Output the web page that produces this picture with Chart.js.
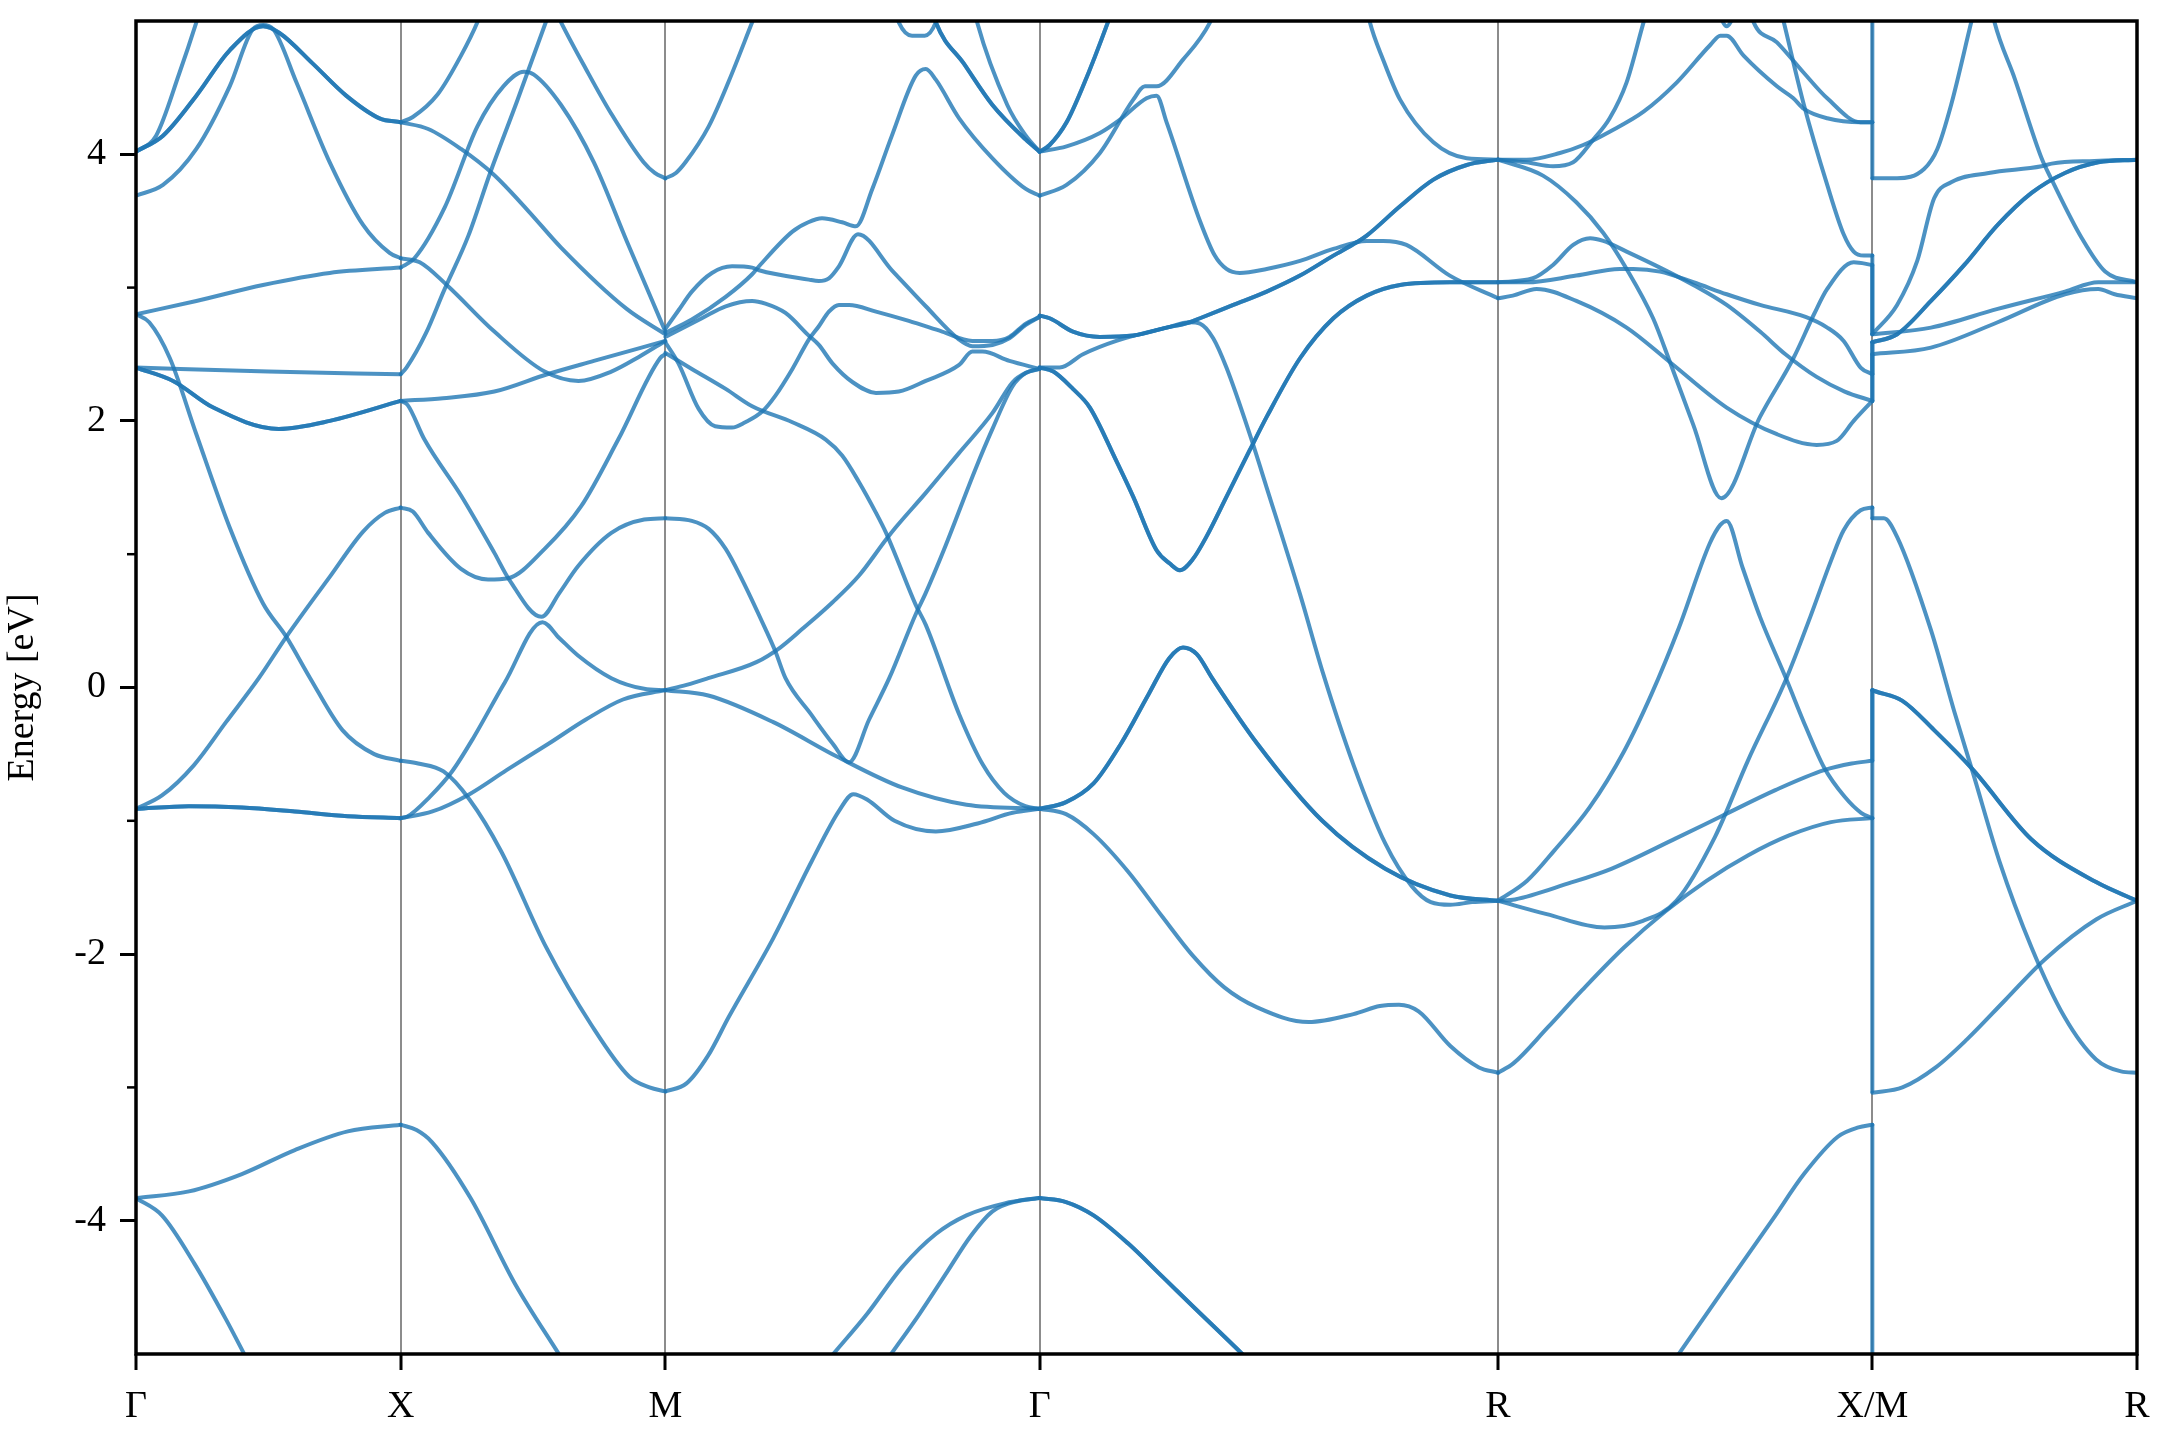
<!DOCTYPE html>
<html>
<head>
<meta charset="utf-8">
<script src="https://cdn.jsdelivr.net/npm/chart.js@4/dist/chart.umd.min.js"></script>
<style>
  html, body { margin: 0; padding: 0; background: #fff; }
  canvas { display: block; }
</style>
</head>
<body>
<canvas id="bands" width="2160" height="1440"></canvas>
<script>
// k-path: Γ-X-M-Γ-R-X|M-R (path length in 2π/a)
const kPoints = [0, 0.5, 1.0, 1.7071, 2.5731, 3.2802, 3.7802];
const kLabels = ['Γ', 'X', 'M', 'Γ', 'R', 'X/M', 'R'];
const yTicks = [-4, -2, 0, 2, 4];
const yMinor = [-3, -1, 1, 3];

// bands, [k, E] pairs. *Double = degenerate pairs (drawn twice)
const gxLines = [
  [[0,-3.83],[0.1,-3.78],[0.2,-3.65],[0.3,-3.47],[0.4,-3.33],[0.5,-3.28]],
  [[0,-3.83],[0.049,-3.96],[0.11,-4.32],[0.17,-4.74],[0.207,-5.02],[0.228,-5.18]],
  [[0,-0.91],[0.049,-0.81],[0.11,-0.58],[0.17,-0.26],[0.232,0.07],[0.284,0.38],[0.366,0.83],[0.429,1.17],[0.47,1.31],[0.5,1.35]],
  [[0,2.8],[0.025,2.74],[0.064,2.47],[0.114,1.9],[0.177,1.2],[0.24,0.63],[0.284,0.38],[0.329,0.07],[0.39,-0.32],[0.45,-0.5],[0.5,-0.55]],
  [[0,2.8],[0.114,2.9],[0.24,3.02],[0.366,3.11],[0.5,3.15]],
  [[0,2.4],[0.25,2.37],[0.5,2.35]],
  [[0,3.69],[0.051,3.77],[0.114,4.04],[0.177,4.51],[0.221,4.94],[0.24,4.97],[0.259,4.94],[0.303,4.54],[0.366,3.94],[0.429,3.47],[0.479,3.26],[0.5,3.22]],
  [[0,4.02],[0.038,4.14],[0.082,4.61],[0.114,4.99],[0.13,5.2]]
];
const gxDouble = [
  [[0,-0.91],[0.1,-0.89],[0.2,-0.9],[0.3,-0.93],[0.4,-0.965],[0.5,-0.98]],
  [[0,2.4],[0.07,2.3],[0.146,2.1],[0.27,1.94],[0.366,2.0],[0.5,2.15]],
  [[0,4.02],[0.051,4.14],[0.114,4.44],[0.177,4.78],[0.24,4.96],[0.271,4.91],[0.334,4.68],[0.397,4.44],[0.46,4.27],[0.5,4.24]]
];

const xmLines = [
  [[0.5,-3.28],[0.53,-3.32],[0.559,-3.41],[0.632,-3.83],[0.717,-4.48],[0.802,-5.02],[0.83,-5.2]],
  [[0.5,-0.98],[0.56,-0.93],[0.63,-0.8],[0.7,-0.62],[0.78,-0.42],[0.85,-0.24],[0.92,-0.09],[1.0,-0.02]],
  [[0.5,-0.55],[0.533,-0.57],[0.581,-0.63],[0.63,-0.84],[0.69,-1.23],[0.775,-1.95],[0.86,-2.53],[0.932,-2.92],[0.97,-3.0],[1.0,-3.03]],
  [[0.5,-0.98],[0.512,-0.97],[0.555,-0.82],[0.597,-0.63],[0.637,-0.38],[0.697,0.04],[0.768,0.49],[0.8,0.37],[0.835,0.24],[0.898,0.07],[0.96,-0.01],[1.0,-0.02]],
  [[0.5,2.15],[0.513,2.12],[0.545,1.86],[0.614,1.44],[0.677,1.01],[0.705,0.81],[0.766,0.53],[0.8,0.71],[0.835,0.91],[0.898,1.16],[0.96,1.26],[1.0,1.27]],
  [[0.5,1.35],[0.523,1.32],[0.552,1.16],[0.614,0.89],[0.665,0.81],[0.703,0.82],[0.772,1.04],[0.841,1.36],[0.911,1.86],[0.99,2.47],[1.0,2.5]],
  [[0.5,2.15],[0.58,2.17],[0.677,2.22],[0.777,2.35],[0.865,2.45],[1.0,2.6]],
  [[0.5,3.22],[0.536,3.19],[0.587,3.02],[0.677,2.67],[0.772,2.37],[0.836,2.3],[0.898,2.37],[0.95,2.48],[1.0,2.6]],
  [[0.5,2.35],[0.511,2.4],[0.548,2.66],[0.581,2.97],[0.628,3.39],[0.669,3.86],[0.72,4.4],[0.775,5.0],[0.79,5.17]],
  [[0.5,4.24],[0.552,4.19],[0.614,4.04],[0.675,3.85],[0.74,3.58],[0.803,3.3],[0.927,2.84],[1.0,2.65]],
  [[0.5,4.24],[0.523,4.28],[0.57,4.45],[0.614,4.74],[0.646,5.0],[0.66,5.15]],
  [[0.5,3.15],[0.526,3.22],[0.583,3.6],[0.645,4.21],[0.694,4.51],[0.733,4.62],[0.751,4.6],[0.803,4.37],[0.865,3.94],[0.927,3.35],[0.97,2.95],[1.0,2.67]],
  [[0.79,5.1],[0.803,4.99],[0.85,4.64],[0.897,4.31],[0.959,3.94],[0.98,3.86],[1.0,3.82]]
];

const mgLines = [
  [[1.0,3.82],[1.02,3.86],[1.038,3.94],[1.082,4.21],[1.12,4.55],[1.164,4.99],[1.18,5.15]],
  [[1.0,2.69],[1.025,2.83],[1.05,2.97],[1.088,3.11],[1.126,3.16],[1.164,3.15],[1.177,3.13],[1.271,3.06],[1.29,3.05],[1.309,3.07],[1.328,3.16],[1.364,3.4],[1.428,3.13],[1.492,2.86],[1.555,2.61],[1.58,2.56],[1.618,2.57],[1.65,2.62],[1.681,2.72],[1.7071,2.78]],
  [[1.0,2.66],[1.05,2.76],[1.114,2.93],[1.164,3.1],[1.177,3.16],[1.24,3.42],[1.27,3.49],[1.296,3.52],[1.334,3.49],[1.36,3.46],[1.391,3.74],[1.428,4.14],[1.473,4.59],[1.492,4.64],[1.511,4.56],[1.555,4.27],[1.618,3.97],[1.681,3.74],[1.7071,3.69]],
  [[1.0,2.63],[1.069,2.77],[1.114,2.86],[1.164,2.9],[1.189,2.88],[1.227,2.81],[1.271,2.64],[1.29,2.57],[1.316,2.43],[1.354,2.29],[1.398,2.21],[1.441,2.22],[1.492,2.3],[1.555,2.42],[1.58,2.52],[1.599,2.52],[1.65,2.45],[1.7071,2.39]],
  [[1.0,2.59],[1.025,2.43],[1.063,2.09],[1.094,1.96],[1.126,1.95],[1.151,1.99],[1.183,2.07],[1.208,2.19],[1.24,2.39],[1.271,2.61],[1.29,2.71],[1.309,2.82],[1.328,2.87],[1.347,2.87],[1.398,2.82],[1.46,2.75],[1.523,2.67],[1.58,2.6],[1.618,2.6],[1.65,2.63],[1.681,2.73],[1.7071,2.78]],
  [[1.0,2.51],[1.05,2.39],[1.114,2.24],[1.164,2.11],[1.24,1.99],[1.303,1.86],[1.334,1.74],[1.366,1.54],[1.398,1.31],[1.417,1.16],[1.435,0.99],[1.473,0.62],[1.492,0.47],[1.555,-0.2],[1.6,-0.58],[1.64,-0.79],[1.68,-0.89],[1.7071,-0.91]],
  [[1.0,1.27],[1.05,1.25],[1.082,1.19],[1.114,1.04],[1.145,0.81],[1.189,0.44],[1.208,0.27],[1.227,0.07],[1.275,-0.2],[1.316,-0.42],[1.347,-0.56],[1.385,-0.24],[1.423,0.07],[1.473,0.55],[1.492,0.71],[1.529,1.06],[1.586,1.64],[1.618,1.94],[1.656,2.26],[1.681,2.36],[1.7071,2.39]],
  [[1.0,-0.02],[1.04,0.02],[1.081,0.07],[1.172,0.19],[1.217,0.3],[1.259,0.44],[1.316,0.64],[1.366,0.84],[1.417,1.11],[1.435,1.2],[1.492,1.46],[1.555,1.76],[1.618,2.06],[1.656,2.29],[1.681,2.36],[1.7071,2.39]],
  [[1.0,-0.02],[1.081,-0.06],[1.204,-0.26],[1.325,-0.52],[1.447,-0.75],[1.569,-0.88],[1.7071,-0.91]],
  [[1.0,-3.03],[1.04,-2.97],[1.081,-2.76],[1.12,-2.47],[1.204,-1.88],[1.277,-1.3],[1.329,-0.92],[1.355,-0.8],[1.381,-0.84],[1.433,-1.0],[1.511,-1.08],[1.59,-1.02],[1.656,-0.94],[1.7071,-0.91]],
  [[1.29,-5.13],[1.313,-5.02],[1.381,-4.7],[1.447,-4.35],[1.511,-4.1],[1.569,-3.96],[1.641,-3.87],[1.7071,-3.83]],
  [[1.4,-5.15],[1.423,-5.02],[1.48,-4.7],[1.533,-4.38],[1.576,-4.12],[1.618,-3.93],[1.668,-3.85],[1.7071,-3.83]],
  [[1.425,5.2],[1.441,4.99],[1.466,4.89],[1.49,4.89],[1.511,4.99],[1.525,5.2]],
  [[1.58,5.15],[1.589,4.99],[1.646,4.37],[1.681,4.14],[1.7071,4.02]]
];
const mgDouble = [
  [[1.5,5.15],[1.511,4.99],[1.564,4.68],[1.618,4.37],[1.681,4.11],[1.7071,4.02]]
];

const grLines = [
  [[1.7071,3.69],[1.758,3.77],[1.821,4.01],[1.884,4.41],[1.906,4.51],[1.928,4.51],[1.978,4.71],[2.029,4.99],[2.04,5.1]],
  [[1.7071,4.02],[1.758,4.06],[1.821,4.16],[1.859,4.26],[1.909,4.42],[1.928,4.44],[1.947,4.24],[2.01,3.5],[2.038,3.24],[2.06,3.14],[2.085,3.11],[2.136,3.14],[2.199,3.2],[2.262,3.29],[2.325,3.35],[2.356,3.35],[2.4,3.32],[2.482,3.09],[2.5731,2.92]],
  [[1.7071,2.4],[1.745,2.4],[1.789,2.5],[1.852,2.6],[1.947,2.7],[1.991,2.74],[2.01,2.73],[2.035,2.62],[2.06,2.4],[2.104,1.9],[2.136,1.5],[2.199,0.7],[2.243,0.1],[2.3,-0.58],[2.36,-1.17],[2.41,-1.49],[2.446,-1.61],[2.483,-1.63],[2.524,-1.61],[2.5731,-1.6]],
  [[1.7071,-0.91],[1.757,-0.95],[1.809,-1.1],[1.874,-1.38],[1.939,-1.72],[1.996,-2.01],[2.056,-2.25],[2.118,-2.4],[2.215,-2.51],[2.3,-2.45],[2.35,-2.39],[2.386,-2.38],[2.423,-2.43],[2.483,-2.69],[2.537,-2.85],[2.5731,-2.89]],
  [[2.32,5.2],[2.331,4.99],[2.356,4.71],[2.388,4.41],[2.451,4.09],[2.514,3.97],[2.5731,3.96]]
];
const grDouble = [
  [[1.7071,4.02],[1.726,4.07],[1.758,4.24],[1.789,4.51],[1.836,4.99],[1.85,5.15]],
  [[1.7071,2.79],[1.726,2.77],[1.77,2.67],[1.821,2.63],[1.884,2.64],[1.947,2.7],[1.991,2.74],[2.01,2.77],[2.073,2.87],[2.136,2.97],[2.199,3.09],[2.262,3.24],[2.306,3.34],[2.325,3.39],[2.388,3.61],[2.451,3.81],[2.514,3.92],[2.5731,3.96]],
  [[1.7071,2.4],[1.733,2.37],[1.77,2.24],[1.802,2.1],[1.852,1.7],[1.884,1.43],[1.928,1.03],[1.953,0.93],[1.972,0.88],[1.996,0.96],[2.022,1.13],[2.06,1.43],[2.104,1.78],[2.136,2.03],[2.199,2.47],[2.262,2.77],[2.325,2.94],[2.388,3.02],[2.482,3.04],[2.5731,3.04]],
  [[1.7071,-0.91],[1.757,-0.86],[1.809,-0.72],[1.861,-0.42],[1.913,-0.05],[1.952,0.22],[1.978,0.3],[2.004,0.25],[2.033,0.07],[2.118,-0.42],[2.241,-1.0],[2.36,-1.36],[2.483,-1.56],[2.5731,-1.6]],
  [[1.7071,-3.83],[1.757,-3.86],[1.809,-3.96],[1.874,-4.17],[1.939,-4.42],[1.996,-4.64],[2.095,-5.02],[2.12,-5.12]]
];

const rxLines = [
  [[2.5731,3.96],[2.627,3.96],[2.69,4.01],[2.734,4.07],[2.784,4.17],[2.848,4.32],[2.911,4.54],[2.974,4.82],[2.993,4.89],[3.005,4.89],[3.037,4.74],[3.1,4.51],[3.131,4.42],[3.151,4.34],[3.195,4.27],[3.258,4.24],[3.2802,4.24]],
  [[2.5731,3.96],[2.627,3.94],[2.677,3.91],[2.715,3.94],[2.753,4.11],[2.784,4.27],[2.816,4.54],[2.848,4.99],[2.86,5.15]],
  [[2.5731,3.96],[2.658,3.84],[2.721,3.64],[2.772,3.41],[2.816,3.14],[2.866,2.77],[2.898,2.44],[2.942,1.97],[2.995,1.42],[3.068,2.03],[3.131,2.47],[3.17,2.8],[3.195,2.99],[3.245,3.19],[3.2802,3.17]],
  [[2.5731,3.04],[2.627,3.04],[2.721,3.09],[2.803,3.14],[2.829,3.14],[2.879,3.12],[2.942,3.04],[3.005,2.95],[3.068,2.87],[3.154,2.78],[3.195,2.7],[3.226,2.6],[3.258,2.4],[3.2802,2.35]],
  [[2.5731,3.04],[2.639,3.07],[2.677,3.17],[2.715,3.32],[2.747,3.37],[2.772,3.35],[2.816,3.27],[2.879,3.15],[2.942,3.02],[3.005,2.87],[3.068,2.67],[3.116,2.5],[3.175,2.33],[3.228,2.22],[3.2802,2.15]],
  [[2.5731,2.92],[2.601,2.94],[2.646,2.99],[2.721,2.9],[2.816,2.7],[2.898,2.44],[3.005,2.1],[3.1,1.9],[3.175,1.82],[3.213,1.85],[3.245,2.0],[3.2802,2.15]],
  [[3.1,5.2],[3.113,4.99],[3.151,4.37],[3.195,3.77],[3.226,3.4],[3.245,3.27],[3.264,3.24],[3.2802,3.24]],
  [[3.045,5.15],[3.056,4.99],[3.1,4.84],[3.151,4.61],[3.195,4.42],[3.258,4.24],[3.2802,4.24]],
  [[2.985,5.12],[3.005,4.96],[3.025,5.1]],
  [[2.5731,-1.6],[2.628,-1.45],[2.68,-1.22],[2.746,-0.9],[2.811,-0.48],[2.863,-0.05],[2.915,0.45],[2.973,1.08],[2.993,1.22],[3.005,1.25],[3.035,0.9],[3.068,0.53],[3.118,0.06],[3.155,-0.3],[3.189,-0.6],[3.228,-0.82],[3.259,-0.94],[3.2802,-0.98]],
  [[2.5731,-1.6],[2.605,-1.59],[2.706,-1.47],[2.787,-1.36],[2.91,-1.13],[2.993,-0.97],[3.097,-0.77],[3.189,-0.62],[3.241,-0.57],[3.2802,-0.55]],
  [[2.5731,-1.6],[2.665,-1.7],[2.774,-1.8],[2.847,-1.75],[2.91,-1.6],[2.983,-1.12],[3.045,-0.55],[3.118,0.07],[3.163,0.53],[3.202,0.95],[3.226,1.18],[3.258,1.33],[3.2802,1.35]],
  [[2.5731,-2.89],[2.602,-2.82],[2.667,-2.55],[2.732,-2.27],[2.811,-1.95],[2.889,-1.68],[2.967,-1.45],[3.045,-1.26],[3.123,-1.11],[3.202,-1.01],[3.2802,-0.98]],
  [[2.885,-5.17],[2.911,-5.02],[2.993,-4.55],[3.092,-3.99],[3.151,-3.65],[3.215,-3.37],[3.254,-3.3],[3.2802,-3.28]]
];

const mrLines = [
  [[3.2802,3.82],[3.327,3.82],[3.378,3.89],[3.403,4.04],[3.429,4.37],[3.467,4.99],[3.48,5.2]],
  [[3.5,5.2],[3.511,4.99],[3.549,4.57],[3.6,3.97],[3.619,3.81],[3.676,3.37],[3.72,3.12],[3.7802,3.04]],
  [[3.2802,2.65],[3.327,2.87],[3.365,3.2],[3.397,3.67],[3.429,3.79],[3.5,3.86],[3.6,3.91],[3.619,3.93],[3.7,3.95],[3.7802,3.96]],
  [[3.2802,2.65],[3.391,2.7],[3.517,2.84],[3.644,2.97],[3.707,3.04],[3.7802,3.04]],
  [[3.2802,2.5],[3.391,2.55],[3.517,2.74],[3.644,2.95],[3.707,2.99],[3.738,2.95],[3.7802,2.92]],
  [[3.2802,1.27],[3.302,1.27],[3.327,1.13],[3.391,0.43],[3.435,-0.18],[3.471,-0.65],[3.52,-1.3],[3.581,-1.95],[3.643,-2.47],[3.703,-2.79],[3.75,-2.88],[3.7802,-2.89]],
  [[3.2802,-3.04],[3.337,-3.0],[3.4,-2.85],[3.459,-2.64],[3.53,-2.35],[3.606,-2.04],[3.703,-1.74],[3.7802,-1.6]]
];
const mrDouble = [
  [[3.2802,2.59],[3.327,2.65],[3.391,2.9],[3.454,3.17],[3.517,3.47],[3.581,3.71],[3.644,3.86],[3.707,3.94],[3.7802,3.96]],
  [[3.2802,-0.02],[3.287,-0.03],[3.337,-0.1],[3.397,-0.32],[3.471,-0.62],[3.581,-1.14],[3.703,-1.46],[3.7802,-1.6]]
];

// band energies on both sides of the X|M break (joined by vertical strokes)
const jumpX = [-3.28, -0.98, -0.98, -0.55, 1.35, 2.15, 2.15, 2.35, 3.17, 3.24, 4.24, 4.24];
const jumpM = [-5.5, -3.03, -0.02, -0.02, 1.27, 2.5, 2.59, 2.59, 2.65, 2.65, 3.82, 5.5];

const lineColor = 'rgba(31, 119, 180, 0.8)';
const serif = 'Liberation Serif';

function bandSet(pts, smooth) {
  return {
    data: pts.map(p => ({x: p[0], y: p[1]})),
    showLine: true,
    borderColor: lineColor,
    borderWidth: 4,
    pointRadius: 0,
    borderJoinStyle: 'round',
    borderCapStyle: 'round',
    cubicInterpolationMode: smooth ? 'monotone' : 'default',
    tension: 0
  };
}

var single = [].concat(gxLines, xmLines, mgLines, grLines, rxLines, mrLines);
var doubled = [].concat(gxDouble, mgDouble, grDouble, mrDouble);
var datasets = single.concat(doubled, doubled).map(p => bandSet(p, true));
jumpX.forEach((e, i) => {
  datasets.push(bandSet([[kPoints[5], e], [kPoints[5], jumpM[i]]], false));
});

const frame = {
  id: 'frame',
  afterDraw(chart) {
    const ctx = chart.ctx, a = chart.chartArea, y = chart.scales.y;
    ctx.save();
    ctx.strokeStyle = '#000';
    ctx.lineWidth = 2.5;
    yMinor.forEach(v => {
      const py = y.getPixelForValue(v);
      ctx.beginPath();
      ctx.moveTo(a.left, py);
      ctx.lineTo(a.left - 9, py);
      ctx.stroke();
    });
    ctx.lineWidth = 3.5;
    ctx.strokeRect(a.left, a.top, a.right - a.left, a.bottom - a.top);
    ctx.restore();
  }
};

new Chart(document.getElementById('bands'), {
  type: 'scatter',
  data: { datasets: datasets },
  options: {
    responsive: false,
    animation: false,
    devicePixelRatio: 1,
    events: [],
    layout: { padding: { left: 0, right: 23, top: 21, bottom: 0 } },
    plugins: { legend: { display: false }, tooltip: { enabled: false } },
    scales: {
      x: {
        type: 'linear',
        min: kPoints[0],
        max: kPoints[kPoints.length - 1],
        afterBuildTicks: axis => { axis.ticks = kPoints.map(v => ({value: v})); },
        afterFit: s => { s.height = 86; s.paddingLeft = 0; s.paddingRight = 0; },
        border: { display: false },
        grid: {
          color: 'rgba(0, 0, 0, 0.45)',
          lineWidth: 2,
          tickColor: '#000',
          tickWidth: 3,
          tickLength: 16
        },
        ticks: {
          autoSkip: false,
          maxRotation: 0,
          padding: 14,
          color: '#000',
          font: { family: serif, size: 38 },
          callback: (v, i) => kLabels[i]
        }
      },
      y: {
        min: -5,
        max: 5,
        afterBuildTicks: axis => { axis.ticks = yTicks.map(v => ({value: v})); },
        afterFit: s => { s.width = 136; s.paddingTop = 0; s.paddingBottom = 0; },
        border: { display: false },
        grid: {
          drawOnChartArea: false,
          tickColor: '#000',
          tickWidth: 3,
          tickLength: 16
        },
        ticks: {
          padding: 14,
          color: '#000',
          font: { family: serif, size: 38 },
          callback: v => String(v)
        },
        title: {
          display: true,
          text: 'Energy [eV]',
          color: '#000',
          padding: { top: 0, bottom: 0 },
          font: { family: serif, size: 38 }
        }
      }
    }
  },
  plugins: [frame]
});
</script>
</body>
</html>
